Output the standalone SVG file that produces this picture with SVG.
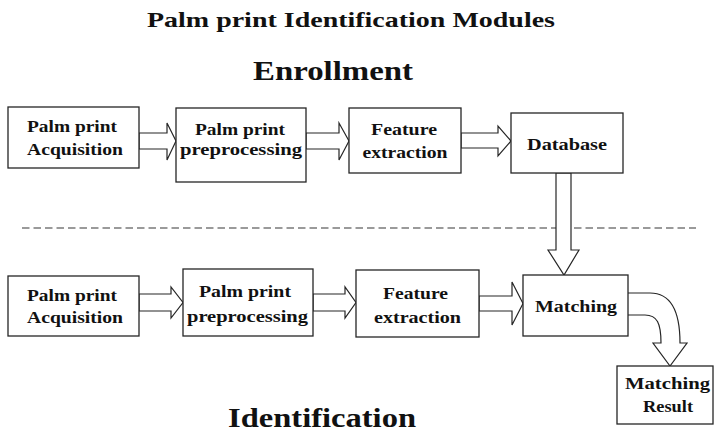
<svg xmlns="http://www.w3.org/2000/svg" width="715" height="432" viewBox="0 0 715 432">
  <style>
    .box { fill: #ffffff; stroke: #262626; stroke-width: 1.3; }
    .arr { fill: #ffffff; stroke: #262626; stroke-width: 1.2; stroke-linejoin: miter; }
    text { font-family: "Liberation Serif", "DejaVu Serif", serif; font-weight: bold; fill: #111111; text-anchor: middle; }
    .lbl { font-size: 17px; }
    .sep { stroke: #7a7a7a; stroke-width: 1.4; stroke-dasharray: 7.5 4; fill: none; }
  </style>
  <rect width="715" height="432" fill="#ffffff"/>

  <!-- headings -->
  <text x="351" y="27" font-size="22" textLength="408" lengthAdjust="spacingAndGlyphs">Palm print Identification Modules</text>
  <text x="333" y="80" font-size="27" textLength="160" lengthAdjust="spacingAndGlyphs">Enrollment</text>
  <text x="322" y="427" font-size="28" textLength="188" lengthAdjust="spacingAndGlyphs">Identification</text>

  <!-- separator between enrollment and identification -->
  <line class="sep" x1="22" y1="228" x2="696" y2="228"/>

  <!-- connectors -->
  <g id="connectors">
    <polygon class="arr" points="139,133 167,133 167,123 176,141 167,160 167,149 139,149"/>
    <polygon class="arr" points="306,133 339,133 339,123 349,141 339,160 339,149 306,149"/>
    <polygon class="arr" points="461,133 498,133 498,126 511,141 498,156 498,148 461,148"/>
    <polygon class="arr" points="556,173 571,173 571,250 579,250 564,275 548,250 556,250"/>
    <polygon class="arr" points="139,294 171,294 171,287 183,302.5 171,318 171,311 139,311"/>
    <polygon class="arr" points="313,294 345,294 345,287 356,302.5 345,318 345,311 313,311"/>
    <polygon class="arr" points="479,296 512,296 512,282 523,303.5 512,325 512,311 479,311"/>
    <path class="arr" d="M628,293 L650,293 C670,293 680,310 680,343 L687,343 L670,366 L653,343 L661,343 C661,323 657,315 645,315 L628,315"/>
  </g>

  <!-- enrollment row -->
  <g id="enroll-acquisition">
    <rect class="box" x="8" y="107" width="131" height="61"/>
    <text class="lbl" x="72" y="132" textLength="90" lengthAdjust="spacingAndGlyphs">Palm print</text>
    <text class="lbl" x="75" y="155" textLength="96" lengthAdjust="spacingAndGlyphs">Acquisition</text>
  </g>
  <g id="enroll-preprocessing">
    <rect class="box" x="176" y="108" width="130" height="74"/>
    <text class="lbl" x="240" y="135" textLength="90" lengthAdjust="spacingAndGlyphs">Palm print</text>
    <text class="lbl" x="241" y="155" textLength="122" lengthAdjust="spacingAndGlyphs">preprocessing</text>
  </g>
  <g id="enroll-feature">
    <rect class="box" x="349" y="108" width="112" height="65"/>
    <text class="lbl" x="404" y="135" textLength="66" lengthAdjust="spacingAndGlyphs">Feature</text>
    <text class="lbl" x="405" y="158" textLength="85" lengthAdjust="spacingAndGlyphs">extraction</text>
  </g>
  <g id="database">
    <rect class="box" x="511" y="113" width="112" height="60"/>
    <text class="lbl" x="567" y="150" textLength="80" lengthAdjust="spacingAndGlyphs">Database</text>
  </g>

  <!-- identification row -->
  <g id="ident-acquisition">
    <rect class="box" x="8" y="276" width="131" height="60"/>
    <text class="lbl" x="72" y="301" textLength="90" lengthAdjust="spacingAndGlyphs">Palm print</text>
    <text class="lbl" x="75" y="323" textLength="96" lengthAdjust="spacingAndGlyphs">Acquisition</text>
  </g>
  <g id="ident-preprocessing">
    <rect class="box" x="183" y="269" width="130" height="67"/>
    <text class="lbl" x="245" y="297" textLength="92" lengthAdjust="spacingAndGlyphs">Palm print</text>
    <text class="lbl" x="247.5" y="322" textLength="121" lengthAdjust="spacingAndGlyphs">preprocessing</text>
  </g>
  <g id="ident-feature">
    <rect class="box" x="356" y="270" width="123" height="67"/>
    <text class="lbl" x="415.5" y="299" textLength="65" lengthAdjust="spacingAndGlyphs">Feature</text>
    <text class="lbl" x="417.5" y="323" textLength="87" lengthAdjust="spacingAndGlyphs">extraction</text>
  </g>
  <g id="matching">
    <rect class="box" x="523" y="275" width="105" height="61"/>
    <text class="lbl" x="576" y="312" textLength="82" lengthAdjust="spacingAndGlyphs">Matching</text>
  </g>
  <g id="matching-result">
    <rect class="box" x="617" y="366" width="96" height="58"/>
    <text class="lbl" x="667.5" y="389" textLength="85" lengthAdjust="spacingAndGlyphs">Matching</text>
    <text class="lbl" x="668" y="412" textLength="50" lengthAdjust="spacingAndGlyphs">Result</text>
  </g>
</svg>
